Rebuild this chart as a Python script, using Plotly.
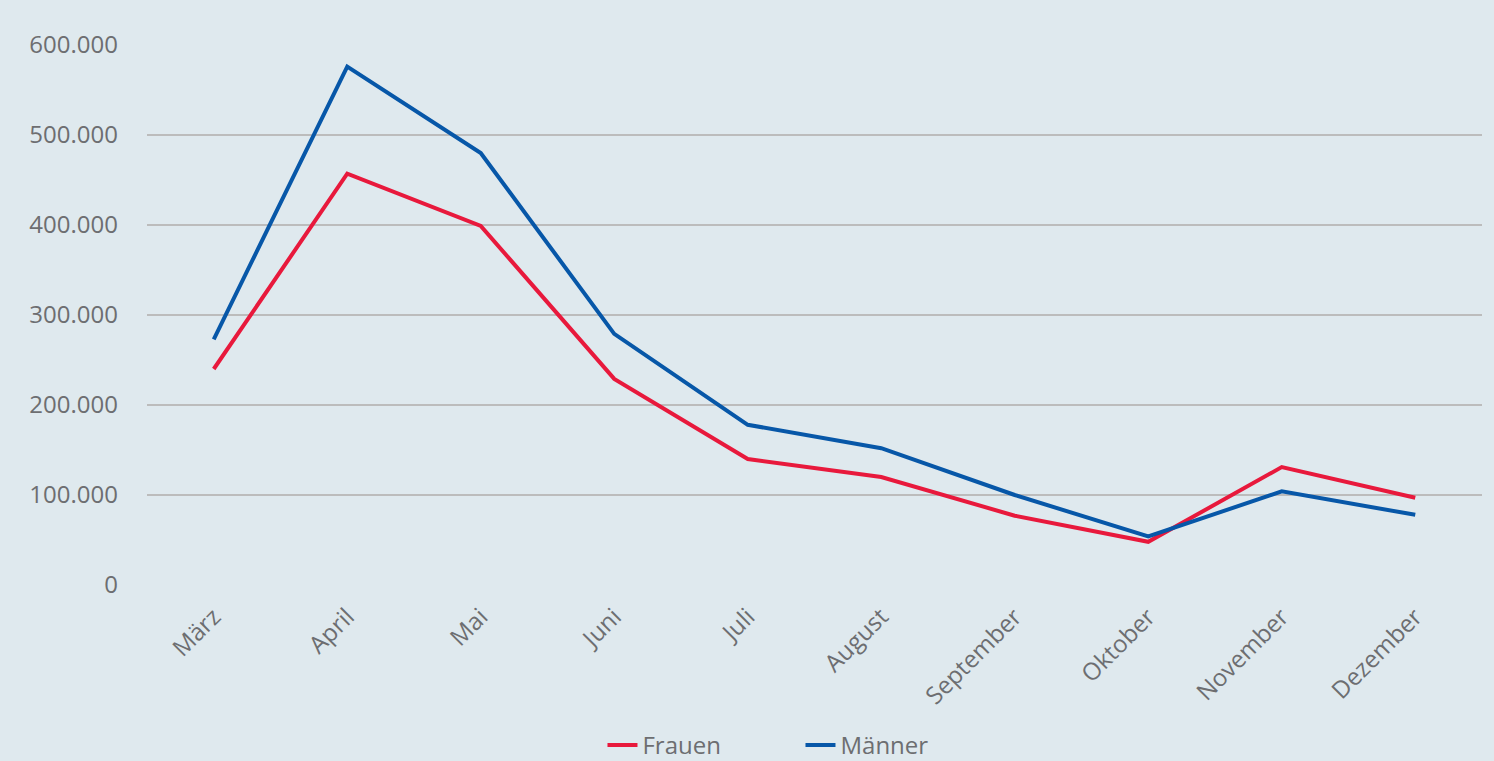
import plotly.graph_objects as go

months = ["März", "April", "Mai", "Juni", "Juli", "August", "September", "Oktober", "November", "Dezember"]
frauen = [240000, 457000, 399000, 229000, 140000, 120000, 77000, 48000, 131000, 97000]
maenner = [273000, 576000, 480000, 279000, 178000, 152000, 100000, 54000, 104000, 78000]
y_ticks = [0, 100000, 200000, 300000, 400000, 500000, 600000]

fig = go.Figure()
fig.add_trace(go.Scatter(x=months, y=frauen, name="Frauen", mode="lines",
                         line=dict(color="#e8193c", width=4)))
fig.add_trace(go.Scatter(x=months, y=maenner, name="Männer", mode="lines",
                         line=dict(color="#0757a8", width=4)))

fig.update_layout(
    width=1494, height=761,
    margin=dict(l=147, r=12, t=45, b=176, autoexpand=False),
    paper_bgcolor="#dfe9ee", plot_bgcolor="#dfe9ee",
    font=dict(family="Open Sans, sans-serif", size=24, color="#6d6e71"),
    separators=",.",
    showlegend=True,
    legend=dict(orientation="h", x=0.4895, xanchor="center", y=-0.297, yanchor="middle",
                font=dict(size=24, color="#6d6e71"), bgcolor="rgba(0,0,0,0)",
                entrywidth=153, entrywidthmode="pixels", tracegroupgap=0),
    xaxis=dict(tickangle=-45, showgrid=False, zeroline=False, showline=False,
               ticks="", range=[-0.5, 9.5], tickfont=dict(size=24),
               automargin=False, ticklabelstandoff=12),
    yaxis=dict(range=[0, 600000], tickvals=y_ticks, tickformat=",d",
               showgrid=True, gridcolor="#bcbcbc", gridwidth=2,
               zeroline=False, showline=False, ticks="", ticklabelstandoff=28,
               tickfont=dict(size=24), automargin=False),
)

fig.write_html("out.html", config={"displayModeBar": False},
               post_script="document.body.style.margin='0';document.body.style.overflow='hidden';")
